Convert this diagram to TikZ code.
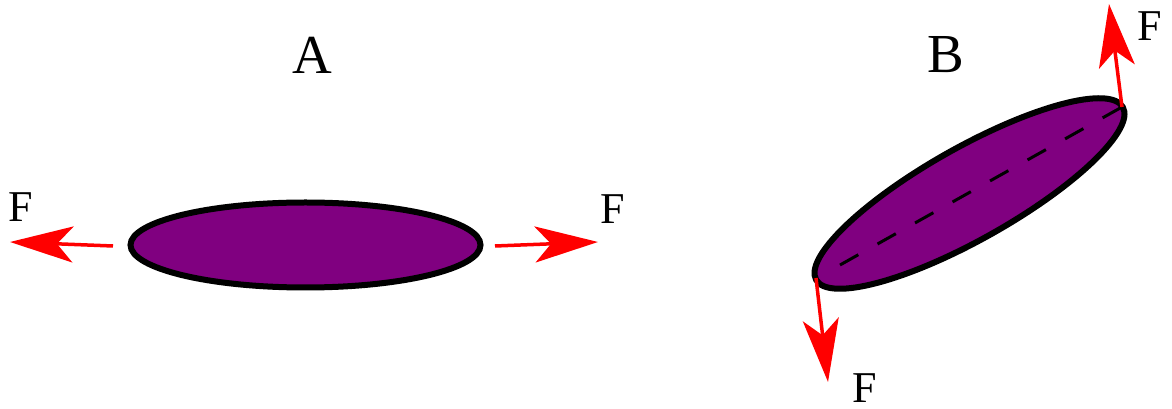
\documentclass[tikz,border=0pt]{standalone}
\usepackage{fontspec}
\setmainfont{Liberation Serif}
\usetikzlibrary{arrows.meta,shapes.geometric}
\definecolor{blobpurple}{HTML}{800080}
\definecolor{forcered}{HTML}{FF0000}
\tikzset{
  blob/.style={draw=black, fill=blobpurple, line width=6pt},
  force/.style={draw=forcered, line width=3.5pt, -{Stealth[length=63pt, width=36pt, inset=16pt, fill=forcered]}},
  flabel/.style={inner sep=0pt, font=\fontsize{44}{50}\selectfont},
  title/.style={inner sep=0pt, font=\fontsize{55}{62}\selectfont},
  axis/.style={draw=black, line width=3pt, dash pattern=on 21pt off 22pt}
}
\begin{document}
\begin{tikzpicture}[x=1pt,y=1pt]
\useasboundingbox (0,0) rectangle (1172,409);
% ellipse A
\node[blob, ellipse, minimum width=350pt, minimum height=85pt, inner sep=0pt] (ea) at (305.5,164) {};
% ellipse B
\node[blob, ellipse, minimum width=352pt, minimum height=92pt, inner sep=0pt, rotate=29.4] (eb) at (969.5,215.5) {};
% coordinates
\coordinate (al0) at (113,163);
\coordinate (al1) at (10,167);
\coordinate (ar0) at (495,163);
\coordinate (ar1) at (598,167);
\coordinate (bl0) at (816,131);
\coordinate (bl1) at (828,27);
\coordinate (bu0) at (1122,302);
\coordinate (bu1) at (1109,405);
\coordinate (d0) at (840,144);
\coordinate (d1) at (1122,302);
% dashed axis
\draw[axis] (d0) -- (d1);
% forces
\draw[force] (al0) -- (al1);
\draw[force] (ar0) -- (ar1);
\draw[force] (bl0) -- (bl1);
\draw[force] (bu0) -- (bu1);
% labels
\node[flabel] (fal) at (21,202) {F};
\node[flabel] (far) at (613,200) {F};
\node[flabel] (fbl) at (865,21) {F};
\node[flabel] (fbu) at (1150,383) {F};
\node[title] (ta) at (312,354) {A};
\node[title] (tb) at (946,354) {B};
\end{tikzpicture}
\end{document}
